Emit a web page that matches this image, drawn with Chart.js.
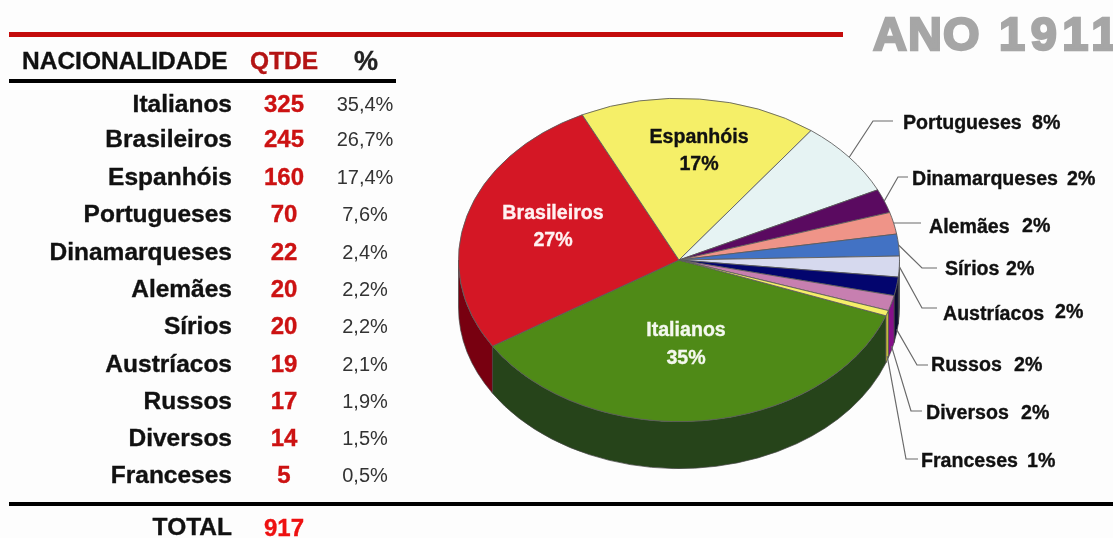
<!DOCTYPE html>
<html lang="pt">
<head>
<meta charset="utf-8">
<title>Ano 1911</title>
<script src="https://cdn.jsdelivr.net/npm/chart.js@4"></script>
<style>
    html, body { margin: 0; padding: 0; background: #fdfdfd; }
    body { position: relative; width: 1113px; height: 538px; overflow: hidden; font-family: "Liberation Sans", Arial, sans-serif; }
    canvas { position: absolute; left: 0; top: 0; }
    .t { position: absolute; white-space: nowrap; height: 30px; line-height: 30px; }
    .rule { position: absolute; height: 4px; background: #000; }
</style>
</head>
<body>
<canvas id="pie" width="1113" height="538"></canvas>
<div class="rule" style="left:9px;top:32px;width:834px;height:5px;background:#c40c0c"></div>
<div class="rule" style="left:9px;top:79px;width:387px"></div>
<div class="rule" style="left:9px;top:502px;width:1104px"></div>
<div id="table"></div>
<script>
const categories = ['Italianos', 'Brasileiros', 'Espanhóis', 'Portugueses', 'Dinamarqueses', 'Alemães', 'Sírios', 'Austríacos', 'Russos', 'Diversos', 'Franceses'];
const quantities = [325, 245, 160, 70, 22, 20, 20, 19, 17, 14, 5];
const tablePercents = ['35,4%', '26,7%', '17,4%', '7,6%', '2,4%', '2,2%', '2,2%', '2,1%', '1,9%', '1,5%', '0,5%'];
const piePercents = ['35%', '27%', '17%', '8%', '2%', '2%', '2%', '2%', '2%', '2%', '1%'];
const total = 917;

const topColors = ['#4f8a17', '#d41725', '#f5ef68', '#e6f3f3', '#5a0a60', '#ef9488', '#4272c4', '#d6d9ee', '#03056e', '#c77fb0', '#f5ef68'];
const sideColors = ['#26441a', '#780010', '#a09a30', '#8a9090', '#30053a', '#8a5048', '#24406e', '#20203c', '#0c0c30', '#86108a', '#c8c040'];

// table rows, y centre of each one
const rowY = [104, 139, 177, 214, 252, 289, 326, 364, 401, 438, 475];

// 3d look of the pie
const squash = 0.733;
const depth = 47;

// labels inside the pie: [index, x, y of name, y of percent, colour]
const innerLabels = [
    [0, 686, 331, 359, '#f4f8ee'],
    [1, 553, 214, 241, '#fff2f2'],
    [2, 699, 138, 165, '#111']
];
// labels outside: index -> [name x, y, percent x, percent y, elbow x, elbow y, line end x, on side?]
const outerLabels = {
    3: [903, 124, 1032, 124, 873, 121, 893, false],
    4: [912, 180, 1067, 180, 898, 177, 908, false],
    5: [929, 228, 1022, 227, 895, 223, 921, false],
    6: [945, 270, 1006, 270, 922, 268, 937, false],
    7: [943, 315, 1055, 313, 922, 308, 937, false],
    8: [931, 366, 1014, 366, 917, 365, 928, true],
    9: [926, 414, 1021, 414, 911, 411, 922, true],
    10: [921, 462, 1027, 462, 906, 459, 918, true]
};

// left side table
const table = document.getElementById('table');
function addText(text, x, y, align, size, weight, color) {
    const el = document.createElement('div');
    el.className = 't';
    el.textContent = text;
    el.style.top = (y - 15) + 'px';
    el.style.fontSize = size + 'px';
    el.style.fontWeight = weight;
    el.style.color = color;
    if (weight === 'bold') el.style.webkitTextStroke = '0.35px ' + color;
    if (align === 'right') el.style.right = (1113 - x) + 'px';
    else if (align === 'center') { el.style.left = (x - 100) + 'px'; el.style.width = '200px'; el.style.textAlign = 'center'; }
    else el.style.left = x + 'px';
    table.appendChild(el);
    return el;
}
addText('NACIONALIDADE', 22, 61, 'left', 24.5, 'bold', '#111');
addText('QTDE', 284, 61, 'center', 24.5, 'bold', '#b41414');
addText('%', 366, 61, 'center', 27, 'bold', '#222');
categories.forEach((name, i) => {
    addText(name, 232, rowY[i], 'right', 24.5, 'bold', '#111');
    addText(quantities[i], 284, rowY[i], 'center', 24, 'bold', '#cc1212');
    addText(tablePercents[i], 365, rowY[i], 'center', 20, 'normal', '#333');
});
addText('TOTAL', 232, 527, 'right', 24.5, 'bold', '#111');
addText(total, 284, 528, 'center', 24, 'bold', '#ee1111');
const year = addText('', 873, 34, 'left', 47, 'bold', '#a6a6a6');
year.innerHTML = '<span style="letter-spacing:1px">ANO</span><span style="letter-spacing:5.5px"> 1911</span>';
year.style.webkitTextStroke = '2.4px #a6a6a6';

function drawSides(ctx, arc, color) {
    const r = arc.outerRadius;
    const ry = r * squash;
    // only the front half of the rim shows, the last slices go past a full turn
    [0, Math.PI * 2].forEach(base => {
        const a = Math.max(arc.startAngle, base);
        const b = Math.min(arc.endAngle, base + Math.PI);
        if (b <= a) return;
        ctx.beginPath();
        ctx.ellipse(arc.x, arc.y, r, ry, 0, a, b);
        ctx.ellipse(arc.x, arc.y + depth, r, ry, 0, b, a, true);
        ctx.closePath();
        ctx.fillStyle = color;
        ctx.fill();
        ctx.strokeStyle = 'rgba(70,70,70,0.7)';
        ctx.lineWidth = 1;
        ctx.stroke();
    });
}

const pie3d = {
    id: 'pie3d',
    beforeDatasetsDraw(chart) {
        const ctx = chart.ctx;
        const arcs = chart.getDatasetMeta(0).data;
        arcs.forEach((arc, i) => drawSides(ctx, arc, sideColors[i]));
        ctx.save();
        ctx.translate(arcs[0].x, arcs[0].y);
        ctx.scale(1, squash);
        ctx.translate(-arcs[0].x, -arcs[0].y);
    },
    afterDatasetsDraw(chart) {
        const ctx = chart.ctx;
        ctx.restore();
        const arcs = chart.getDatasetMeta(0).data;
        ctx.save();
        ctx.textBaseline = 'middle';
        ctx.font = 'bold 19.6px "Liberation Sans", Arial, sans-serif';
        ctx.lineWidth = 0.35;
        innerLabels.forEach(([i, x, y1, y2, color]) => {
            ctx.fillStyle = color;
            ctx.strokeStyle = color;
            ctx.textAlign = 'center';
            [[categories[i], y1], [piePercents[i], y2]].forEach(([s, y]) => {
                ctx.fillText(s, x, y);
                ctx.strokeText(s, x, y);
            });
        });
        ctx.textAlign = 'left';
        Object.keys(outerLabels).forEach(key => {
            const i = Number(key);
            const [nx, ny, px, py, ex, ey, endX, onSide] = outerLabels[key];
            const arc = arcs[i];
            const mid = (arc.startAngle + arc.endAngle) / 2;
            const sx = arc.x + Math.cos(mid) * arc.outerRadius;
            const sy = arc.y + Math.sin(mid) * arc.outerRadius * squash + (onSide ? depth - 4 : 0);
            ctx.beginPath();
            ctx.moveTo(sx, sy);
            ctx.lineTo(ex, ey);
            ctx.lineTo(endX, ey);
            ctx.strokeStyle = '#6a6a6a';
            ctx.lineWidth = 1.2;
            ctx.stroke();
            ctx.fillStyle = '#111';
            ctx.strokeStyle = '#111';
            ctx.lineWidth = 0.35;
            ctx.fillText(categories[i], nx, ny);
            ctx.strokeText(categories[i], nx, ny);
            ctx.fillText(piePercents[i], px, py);
            ctx.strokeText(piePercents[i], px, py);
        });
        ctx.restore();
    }
};

new Chart(document.getElementById('pie'), {
    type: 'pie',
    data: {
        labels: categories,
        datasets: [{
            data: quantities,
            backgroundColor: topColors,
            borderColor: '#5c5c5c',
            borderWidth: 1,
            clip: false
        }]
    },
    options: {
        responsive: false,
        animation: false,
        rotation: 110.2,
        layout: { padding: { left: 458, right: 213, top: 39, bottom: 57 } },
        events: [],
        plugins: {
            legend: { display: false },
            tooltip: { enabled: false }
        }
    },
    plugins: [pie3d]
});
</script>
</body>
</html>
